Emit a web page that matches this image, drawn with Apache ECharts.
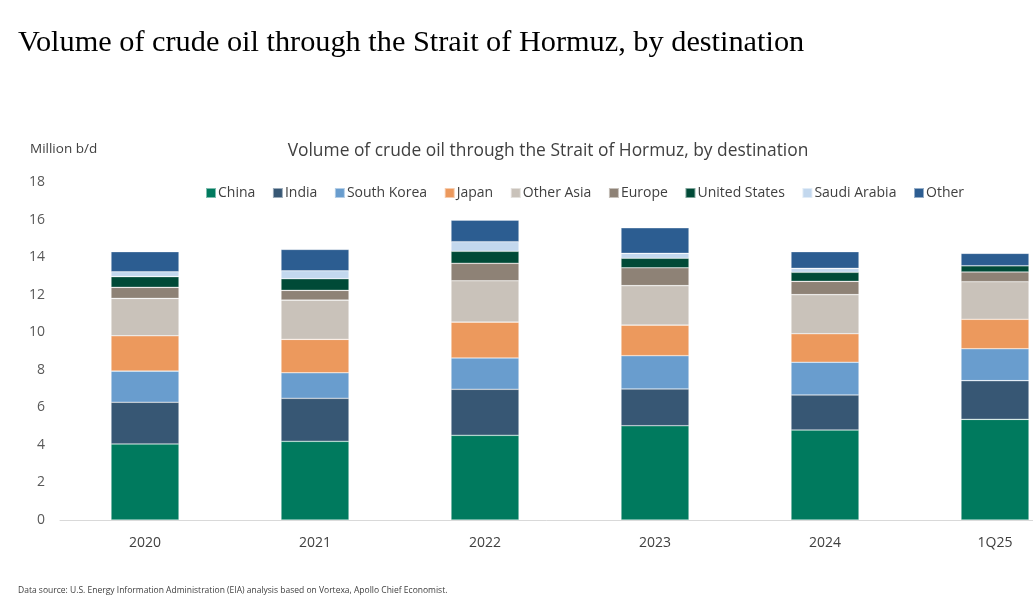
<!DOCTYPE html>
<html><head><meta charset="utf-8">
<script src="https://cdn.jsdelivr.net/npm/echarts@6/dist/echarts.min.js"></script>
<style>html,body{margin:0;padding:0;background:#fff;}#c{width:1033px;height:604px;}</style>
</head><body><div id="c"></div>
<script>
const categories = ['2020','2021','2022','2023','2024','1Q25'];
const seriesNames = ['China','India','South Korea','Japan','Other Asia','Europe','United States','Saudi Arabia','Other'];
const china       = [4.05, 4.19, 4.51, 5.02, 4.79, 5.36];
const india       = [2.22, 2.29, 2.45, 1.96, 1.87, 2.06];
const southKorea  = [1.66, 1.36, 1.67, 1.77, 1.74, 1.70];
const japan       = [1.88, 1.78, 1.91, 1.63, 1.52, 1.57];
const otherAsia   = [1.99, 2.09, 2.20, 2.10, 2.08, 2.00];
const europe      = [0.59, 0.52, 0.93, 0.95, 0.71, 0.52];
const unitedStates= [0.57, 0.62, 0.64, 0.51, 0.48, 0.33];
const saudiArabia = [0.26, 0.42, 0.51, 0.26, 0.21, 0.00];
const other       = [1.07, 1.14, 1.15, 1.36, 0.89, 0.66];
const yTicks = [0,2,4,6,8,10,12,14,16,18];
const colors = ['#007A5E','#375774','#699DCE','#EC995D','#C9C2BA','#8E8276','#004A37','#C3D8EE','#2C5D91'];
const values = [china, india, southKorea, japan, otherAsia, europe, unitedStates, saudiArabia, other];

const chart = echarts.init(document.getElementById('c'), null, {renderer:'canvas'});
const sans = '"Open Sans", "Noto Sans", sans-serif';
chart.setOption({
  animation:false,
  backgroundColor:'#fff',
  color: colors,
  title:[
    {text:'Volume of crude oil through the Strait of Hormuz, by destination', left:13, top:23,
     textStyle:{fontFamily:'"Liberation Serif", serif', fontSize:30.3, fontWeight:'normal', color:'#000'}},
    {text:'Volume of crude oil through the Strait of Hormuz, by destination', left:543, textAlign:'center', top:138,
     textStyle:{fontFamily:sans, fontSize:17.4, fontWeight:'normal', color:'#404040'}},
    {text:'Million b/d', left:25, top:137,
     textStyle:{fontFamily:sans, fontSize:13.5, fontWeight:'normal', color:'#404040'}},
    {text:'Data source: U.S. Energy Information Administration (EIA) analysis based on Vortexa, Apollo Chief Economist.', left:13, top:581,
     textStyle:{fontFamily:sans, fontSize:8.5, fontWeight:'normal', color:'#404040'}}
  ],
  legend:{
    data: seriesNames, top:181, left:200, itemWidth:10, itemHeight:10, itemGap:16.6, icon:'rect',
    textStyle:{fontFamily:sans, fontSize:14, color:'#404040', padding:[0,0,0,-3]}
  },
  grid:{left:60, width:1020, top:182, bottom:84, containLabel:false, outerBoundsMode:'none'},
  xAxis:{type:'category', data:categories,
    axisLine:{lineStyle:{color:'#D9D9D9', width:1}}, axisTick:{show:false},
    axisLabel:{fontFamily:sans, fontSize:14, color:'#404040', margin:16}},
  yAxis:{type:'value', min:0, max:18, interval:2,
    splitLine:{show:false}, axisLine:{show:false}, axisTick:{show:false},
    axisLabel:{fontFamily:sans, fontSize:14, color:'#595959', margin:15,
      formatter: v => yTicks.includes(v) ? String(v) : ''}},
  series: seriesNames.map((n,i)=>({
    name:n, type:'bar', stack:'total', barWidth:'40%', data:values[i],
    itemStyle:{color:colors[i], borderColor:'rgba(255,255,255,0.5)', borderWidth:0.6}
  }))
});
</script></body></html>
